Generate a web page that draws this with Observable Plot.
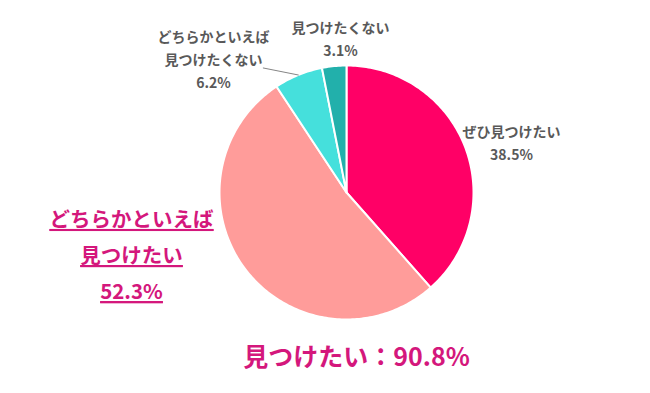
<!DOCTYPE html>
<html><head><meta charset="utf-8">
<script src="https://cdn.jsdelivr.net/npm/d3@7"></script>
<script src="https://cdn.jsdelivr.net/npm/@observablehq/plot@0.6"></script>
<style>body{margin:0;background:#fff;font-family:"Noto Sans CJK JP",sans-serif;}</style>
</head><body><div id="chart"></div>
<script>
const categories = ["ぜひ見つけたい", "どちらかといえば見つけたい", "どちらかといえば見つけたくない", "見つけたくない"];
const values = [38.5, 52.3, 6.2, 3.1];
const colors = ["#ff0066", "#ff9c9a", "#45e0dc", "#22b0ab"];
const totalLabel = "見つけたい：90.8%";

const W = 650, H = 393, R = 127, CX = 346, CY = 192;
const data = categories.map((c, i) => ({cat: c, value: values[i]}));
const arcs = d3.pie().sort(null).value(d => d.value)(data);
const pts = [];
for (const a of arcs) {
  pts.push({cat: a.data.cat, x: 0, y: 0});
  const n = Math.max(2, Math.ceil((a.endAngle - a.startAngle) * 180 / Math.PI));
  for (let k = 0; k <= n; k++) {
    const t = a.startAngle + (a.endAngle - a.startAngle) * k / n;
    pts.push({cat: a.data.cat, x: Math.sin(t), y: Math.cos(t)});
  }
  pts.push({cat: a.data.cat, x: 0, y: 0});
}
const mid = a => (a.startAngle + a.endAngle) / 2;
const u = (px, py) => ({x: (px - CX) / R, y: (CY - py) / R});

const a62 = arcs[2];
const leader = [
  {x: Math.sin(mid(a62)) - 35 / R, y: Math.cos(mid(a62)) + 7 / R},
  {x: Math.sin(mid(a62)), y: Math.cos(mid(a62))}
];

const small = [
  {...u(340, 36.5), t: categories[3] + "\n" + values[3].toFixed(1) + "%"},
  {...u(213, 57.5), t: "どちらかといえば\n見つけたくない\n" + values[2].toFixed(1) + "%"},
  {...u(511, 140.5), t: categories[0] + "\n" + values[0].toFixed(1) + "%"}
];
const big = [{...u(131, 251), t: "どちらかといえば\n見つけたい\n" + values[1].toFixed(1) + "%"}];
const bottom = [{...u(356, 357), t: totalLabel}];

const plot = Plot.plot({
  width: W, height: H, margin: 0,
  x: {domain: [-CX / R, (W - CX) / R], axis: null},
  y: {domain: [-(H - CY) / R, CY / R], axis: null},
  color: {domain: categories, range: colors, legend: false},
  style: {fontFamily: "'Noto Sans CJK JP', sans-serif", background: "#fff"},
  marks: [
    Plot.line(pts, {x: "x", y: "y", z: "cat", fill: "cat", stroke: "#fff", strokeWidth: 2, strokeLinejoin: "round"}),
    Plot.line(leader, {x: "x", y: "y", stroke: "#666", strokeWidth: 0.8}),
    Plot.text(small, {x: "x", y: "y", text: "t", fontSize: 14, fontWeight: 700, fill: "#595959", lineHeight: 1.64, lineAnchor: "middle"}),
    Plot.text(big, {x: "x", y: "y", text: "t", fontSize: 20.5, fontWeight: 700, fill: "#d4177c", lineHeight: 1.76, lineAnchor: "middle", className: "ul"}),
    Plot.text(bottom, {x: "x", y: "y", text: "t", fontSize: 25, fontWeight: 700, fill: "#d4177c", lineAnchor: "middle"})
  ]
});
d3.select(plot).selectAll(".ul text, .ul tspan").style("text-decoration", "underline");
document.getElementById("chart").appendChild(plot);
</script></body></html>
